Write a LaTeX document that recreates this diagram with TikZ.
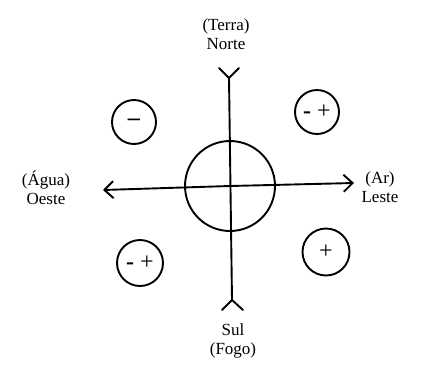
\documentclass[tikz,border=0pt]{standalone}
\usepackage{fontspec}
\setmainfont{Liberation Serif}
\usetikzlibrary{arrows.meta}
\begin{document}
\begin{tikzpicture}[x=1pt,y=-1pt,
  ln/.style={line width=1.9pt,line cap=round,line join=round},
  lbl/.style={font=\fontsize{17}{19}\selectfont,align=center,inner sep=0pt},
  sgn/.style={circle,draw,line width=1.9pt,inner sep=0pt,font=\fontsize{24}{24}\selectfont},
  barb/.style={-{Straight Barb[length=9pt,width=17pt,line width=1.9pt]}}]
\useasboundingbox (0,0) rectangle (440,365);
% axes
\coordinate (N) at (229,78);
\coordinate (S) at (232,300);
\coordinate (W) at (103,190);
\coordinate (E) at (354,183);
\coordinate (O) at (230,186);
\draw[ln] (N) -- (S);
\draw[ln] (N) -- ++(-10,-10);
\draw[ln] (N) -- ++(10,-10);
\draw[ln] (S) -- ++(-10,10);
\draw[ln] (S) -- ++(11,10);
\draw[ln,barb] (O) -- (W);
\draw[ln,barb] (O) -- (E);
% central circle
\node[circle,draw,line width=1.9pt,minimum size=90pt,inner sep=0pt] (C) at (O) {};
% small circles
\node[sgn,minimum size=44pt] (c1) at (134,122) {\textbf{–}};
\node[sgn,minimum size=44pt] (c2) at (317,112) {\textbf{-} +};
\node[sgn,minimum size=46pt] (c3) at (140,263) {\textbf{-} +};
\node[sgn,minimum size=47pt] (c4) at (326,252) {+};
% labels
\node[lbl] (tn) at (226,34) {(Terra)\\Norte};
\node[lbl] (ts) at (233,341) {Sul\\(Fogo)};
\node[lbl] (tw) at (46,188) {(Água)\\Oeste};
\node[lbl] (te) at (380,187) {(Ar)\\Leste};
\end{tikzpicture}
\end{document}
